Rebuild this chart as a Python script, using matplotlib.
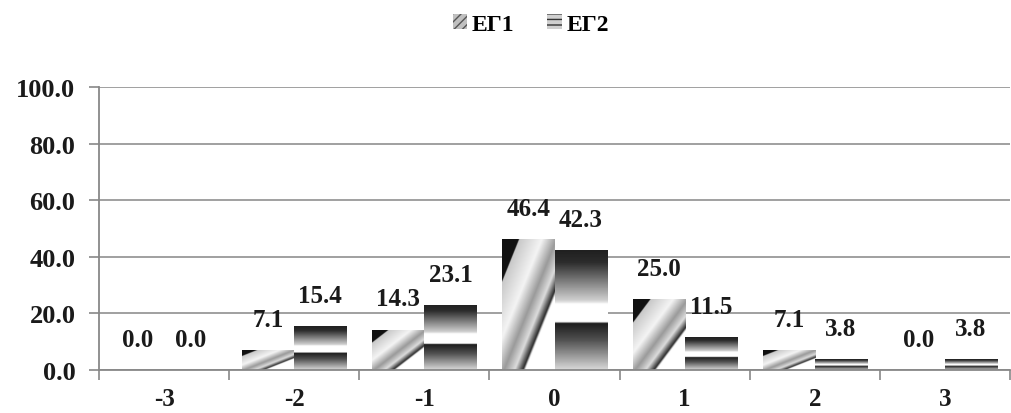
import matplotlib

matplotlib.use("Agg")
import matplotlib.pyplot as plt
import numpy as np
from matplotlib.colors import LinearSegmentedColormap
from matplotlib.patches import Patch

categories = ["-3", "-2", "-1", "0", "1", "2", "3"]
eg1 = [0.0, 7.1, 14.3, 46.4, 25.0, 7.1, 0.0]
eg2 = [0.0, 15.4, 23.1, 42.3, 11.5, 3.8, 3.8]
series_names = ["ЕГ1", "ЕГ2"]

plt.rcParams["font.family"] = ["Liberation Serif", "DejaVu Serif"]
plt.rcParams["font.weight"] = "bold"

# diagonal shading for the first series, banded vertical shading for the second
diag_cmap = LinearSegmentedColormap.from_list(
    "diag",
    [(0.0, "#111111"), (0.16, "#111111"), (0.165, "#c8c8c8"), (0.38, "#f4f4f4"),
     (0.52, "#9a9a9a"), (0.62, "#dcdcdc"), (0.70, "#2a2a2a"), (0.72, "#ffffff"),
     (1.0, "#ffffff")],
)
band_cmap = LinearSegmentedColormap.from_list(
    "band",
    [(0.0, "#202020"), (0.1, "#2c2c2c"), (0.42, "#d0d0d0"), (0.45, "#ffffff"),
     (0.6, "#ffffff"), (0.61, "#1c1c1c"), (0.75, "#505050"), (1.0, "#d8d8d8")],
)

n = 200
uu, vv = np.meshgrid(np.linspace(0, 1, n), np.linspace(0, 1, n))
diag_img = (uu + vv) / 2.0          # row 0 = top of bar
band_img = vv

fig = plt.figure(figsize=(10.11, 4.14), dpi=100)
ax = fig.add_axes([0.098, 0.104, 0.901, 0.683])

x = np.arange(len(categories))
w = 0.4
bars1 = ax.bar(x - w / 2, eg1, w, facecolor="none", edgecolor="none")
bars2 = ax.bar(x + w / 2, eg2, w, facecolor="none", edgecolor="none")

for bars, img, cmap in ((bars1, diag_img, diag_cmap), (bars2, band_img, band_cmap)):
    for p in bars:
        h = p.get_height()
        if h <= 0:
            continue
        x0 = p.get_x()
        im = ax.imshow(img, cmap=cmap, vmin=0, vmax=1, aspect="auto",
                       extent=(x0, x0 + p.get_width(), 0, h), origin="upper",
                       interpolation="bilinear", zorder=2)
        im.set_clip_path(p)

for bars, vals in ((bars1, eg1), (bars2, eg2)):
    for p, v in zip(bars, vals):
        ax.annotate(f"{v:.1f}", (p.get_x() + p.get_width() / 2, v),
                    xytext=(0, 22), textcoords="offset points",
                    ha="center", va="center", fontsize=18, fontweight="bold",
                    color="#1a1a1a", zorder=4)

ax.set_xlim(-0.5, len(categories) - 0.5)
ax.set_ylim(0, 100)
ax.set_yticks(np.arange(0, 101, 20))
ax.set_yticklabels([f"{t:.1f}" for t in np.arange(0, 101, 20)])
ax.set_xticks(x)
ax.set_xticklabels(categories)
ax.set_xticks(np.arange(-0.5, len(categories), 1), minor=True)
ax.tick_params(axis="x", which="major", length=0, pad=12, labelsize=18)
ax.tick_params(axis="x", which="minor", length=7, width=1.2, color="#888888")
ax.tick_params(axis="y", length=7, width=1.2, color="#888888", labelsize=19, pad=10)
for lbl in ax.get_xticklabels() + ax.get_yticklabels():
    lbl.set_fontweight("bold")
    lbl.set_color("#1a1a1a")

ax.grid(axis="y", color="#999999", linewidth=1.3, zorder=0)
ax.set_axisbelow(True)
for s in ("top", "right"):
    ax.spines[s].set_visible(False)
for s in ("left", "bottom"):
    ax.spines[s].set_color("#888888")
    ax.spines[s].set_linewidth(1.3)

handles = [Patch(facecolor="#c0c0c0", edgecolor="#555555", hatch="////", linewidth=0),
           Patch(facecolor="#d0d0d0", edgecolor="#333333", hatch="---", linewidth=0)]
fig.legend(handles, series_names, loc="upper center", bbox_to_anchor=(0.525, 1.015),
           ncol=2, frameon=False, prop={"size": 17, "weight": "bold"},
           handlelength=0.6, handleheight=0.6, handletextpad=0.2, columnspacing=1.4)

fig.savefig("out.png", dpi=100)
plt.close(fig)
